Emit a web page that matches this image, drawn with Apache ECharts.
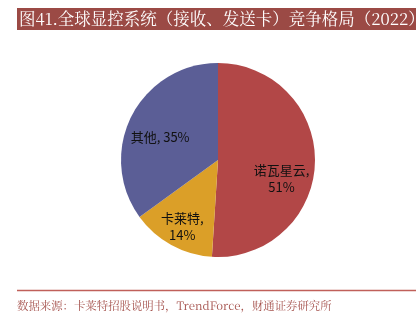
<!DOCTYPE html>
<html>
<head>
<meta charset="utf-8">
<script src="https://cdn.jsdelivr.net/npm/echarts@6/dist/echarts.min.js"></script>
<style>
html,body{margin:0;padding:0;background:#fff;}
#chart{width:416px;height:324px;}
</style>
</head>
<body>
<div id="chart"></div>
<script>
var titleText = '图41.全球显控系统（接收、发送卡）竞争格局（2022）';
var sourceText = '数据来源：卡莱特招股说明书，TrendForce，财通证券研究所';
var categories = ['诺瓦星云', '卡莱特', '其他'];
var shares = [51, 14, 35];
var labelTexts = ['诺瓦星云,\n51%', '卡莱特,\n14%', '其他, 35%'];
var colors = ['#B24747', '#DB9F28', '#5B5E96'];

var labelShift = [[12, 17], [-11, 21], [-12, 0]];

var chart = echarts.init(document.getElementById('chart'), null, {renderer: 'canvas'});
var cjk = '"Noto Serif CJK SC", "Noto Sans CJK SC", serif';
chart.setOption({
  animation: false,
  backgroundColor: '#fff',
  graphic: [
    {type: 'rect', shape: {x: 17, y: 8, width: 400, height: 22}, style: {fill: '#9B4A45'}},
    {type: 'text', left: 19, top: 10, style: {text: titleText, fill: '#fff', font: '16.5px ' + cjk}},
    {type: 'line', shape: {x1: 17, y1: 290.5, x2: 416, y2: 290.5}, style: {stroke: '#C0605A', lineWidth: 1.5}},
    {type: 'text', left: 17, top: 300, style: {text: sourceText, fill: '#A5524D', font: '11.4px ' + cjk}}
  ],
  series: [{
    type: 'pie',
    center: [218, 160],
    radius: [0, 97],
    startAngle: 90,
    clockwise: true,
    color: colors,
    label: {
      show: true,
      position: 'inside',
      color: '#111',
      fontSize: 13,
      lineHeight: 17,
      fontFamily: '"Noto Sans CJK SC", sans-serif',
      formatter: function (p) { return labelTexts[p.dataIndex]; }
    },
    labelLine: {show: false},
    labelLayout: function (p) {
      return {dx: labelShift[p.dataIndex][0], dy: labelShift[p.dataIndex][1]};
    },
    itemStyle: {borderWidth: 0},
    emphasis: {disabled: true},
    data: categories.map(function (c, i) { return {name: c, value: shares[i]}; })
  }]
});
</script>
</body>
</html>
